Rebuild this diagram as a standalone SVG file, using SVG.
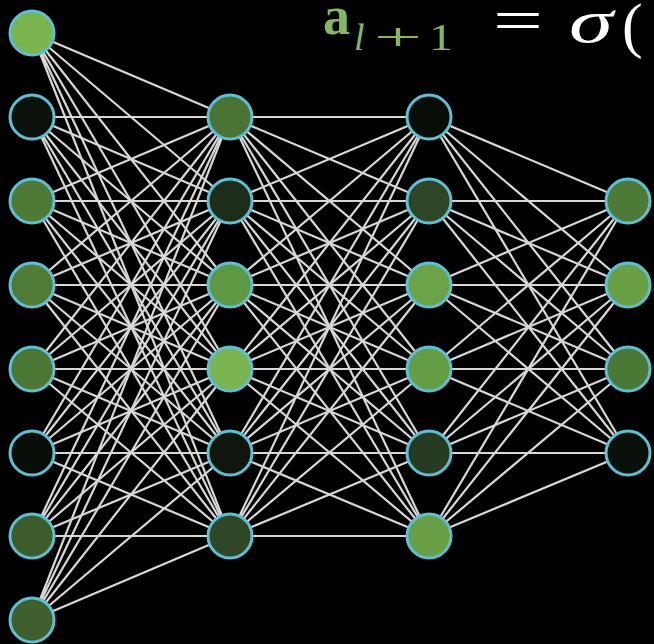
<svg xmlns="http://www.w3.org/2000/svg" width="654" height="644" viewBox="0 0 654 644">
<style>
.e{stroke:#d9d6d6;stroke-width:2.2;fill:none}
.n{stroke:#5cbfd3;stroke-width:3}
.t{font-family:"Liberation Serif","DejaVu Serif",serif}
</style>
<rect x="0" y="0" width="654" height="644" fill="#000"/>
<g id="connectors" class="e">
<path d="M32 33L230 117M32 33L230 201M32 33L230 285M32 33L230 369M32 33L230 453M32 33L230 536"/>
<path d="M32 117L230 117M32 117L230 201M32 117L230 285M32 117L230 369M32 117L230 453M32 117L230 536"/>
<path d="M32 201L230 117M32 201L230 201M32 201L230 285M32 201L230 369M32 201L230 453M32 201L230 536"/>
<path d="M32 285L230 117M32 285L230 201M32 285L230 285M32 285L230 369M32 285L230 453M32 285L230 536"/>
<path d="M32 369L230 117M32 369L230 201M32 369L230 285M32 369L230 369M32 369L230 453M32 369L230 536"/>
<path d="M32 453L230 117M32 453L230 201M32 453L230 285M32 453L230 369M32 453L230 453M32 453L230 536"/>
<path d="M32 536L230 117M32 536L230 201M32 536L230 285M32 536L230 369M32 536L230 453M32 536L230 536"/>
<path d="M32 620L230 117M32 620L230 201M32 620L230 285M32 620L230 369M32 620L230 453M32 620L230 536"/>
<path d="M230 117L429 117M230 117L429 201M230 117L429 285M230 117L429 369M230 117L429 453M230 117L429 536"/>
<path d="M230 201L429 117M230 201L429 201M230 201L429 285M230 201L429 369M230 201L429 453M230 201L429 536"/>
<path d="M230 285L429 117M230 285L429 201M230 285L429 285M230 285L429 369M230 285L429 453M230 285L429 536"/>
<path d="M230 369L429 117M230 369L429 201M230 369L429 285M230 369L429 369M230 369L429 453M230 369L429 536"/>
<path d="M230 453L429 117M230 453L429 201M230 453L429 285M230 453L429 369M230 453L429 453M230 453L429 536"/>
<path d="M230 536L429 117M230 536L429 201M230 536L429 285M230 536L429 369M230 536L429 453M230 536L429 536"/>
<path d="M429 117L628 201M429 117L628 285M429 117L628 369M429 117L628 453"/>
<path d="M429 201L628 201M429 201L628 285M429 201L628 369M429 201L628 453"/>
<path d="M429 285L628 201M429 285L628 285M429 285L628 369M429 285L628 453"/>
<path d="M429 369L628 201M429 369L628 285M429 369L628 369M429 369L628 453"/>
<path d="M429 453L628 201M429 453L628 285M429 453L628 369M429 453L628 453"/>
<path d="M429 536L628 201M429 536L628 285M429 536L628 369M429 536L628 453"/>
</g>
<g id="layer1">
<g id="n1_1"><circle class="n" cx="32" cy="33" r="22" fill="#7ab54f"/></g>
<g id="n1_2"><circle class="n" cx="32" cy="117" r="22" fill="#0b120b"/></g>
<g id="n1_3"><circle class="n" cx="32" cy="201" r="22" fill="#4f7a36"/></g>
<g id="n1_4"><circle class="n" cx="32" cy="285" r="22" fill="#507c37"/></g>
<g id="n1_5"><circle class="n" cx="32" cy="369" r="22" fill="#4b7634"/></g>
<g id="n1_6"><circle class="n" cx="32" cy="453" r="22" fill="#090e09"/></g>
<g id="n1_7"><circle class="n" cx="32" cy="536" r="22" fill="#3d5c2c"/></g>
<g id="n1_8"><circle class="n" cx="32" cy="620" r="22" fill="#3f602e"/></g>
</g>
<g id="layer2">
<g id="n2_1"><circle class="n" cx="230" cy="117" r="22" fill="#4a7435"/></g>
<g id="n2_2"><circle class="n" cx="230" cy="201" r="22" fill="#1d2d19"/></g>
<g id="n2_3"><circle class="n" cx="230" cy="285" r="22" fill="#5e9842"/></g>
<g id="n2_4"><circle class="n" cx="230" cy="369" r="22" fill="#7ab552"/></g>
<g id="n2_5"><circle class="n" cx="230" cy="453" r="22" fill="#0e160e"/></g>
<g id="n2_6"><circle class="n" cx="230" cy="536" r="22" fill="#2f4726"/></g>
</g>
<g id="layer3">
<g id="n3_1"><circle class="n" cx="429" cy="117" r="22" fill="#090e09"/></g>
<g id="n3_2"><circle class="n" cx="429" cy="201" r="22" fill="#2e4528"/></g>
<g id="n3_3"><circle class="n" cx="429" cy="285" r="22" fill="#6aa348"/></g>
<g id="n3_4"><circle class="n" cx="429" cy="369" r="22" fill="#659d45"/></g>
<g id="n3_5"><circle class="n" cx="429" cy="453" r="22" fill="#273b22"/></g>
<g id="n3_6"><circle class="n" cx="429" cy="536" r="22" fill="#69a047"/></g>
</g>
<g id="layer4">
<g id="n4_1"><circle class="n" cx="628" cy="201" r="22" fill="#4e7a37"/></g>
<g id="n4_2"><circle class="n" cx="628" cy="285" r="22" fill="#69a046"/></g>
<g id="n4_3"><circle class="n" cx="628" cy="369" r="22" fill="#4c7836"/></g>
<g id="n4_4"><circle class="n" cx="628" cy="453" r="22" fill="#0a100a"/></g>
</g>
<g id="formula" class="t">
<text x="323" y="34" font-size="54" font-weight="bold" fill="#84b860">a</text>
<text x="354" y="50" font-size="38" fill="#84b860" font-style="italic">l</text>
<text x="374" y="50" font-size="38" fill="#84b860" textLength="48" lengthAdjust="spacingAndGlyphs">+</text>
<text x="429" y="50" font-size="38" fill="#84b860" textLength="24" lengthAdjust="spacingAndGlyphs">1</text>
<text x="493" y="41" font-size="62" fill="#fff" textLength="50" lengthAdjust="spacingAndGlyphs">=</text>
<text x="569" y="42" font-size="62" fill="#fff" font-style="italic" textLength="44" lengthAdjust="spacingAndGlyphs">σ</text>
<text x="622" y="46" font-size="62" fill="#fff">(</text>
</g>
</svg>
